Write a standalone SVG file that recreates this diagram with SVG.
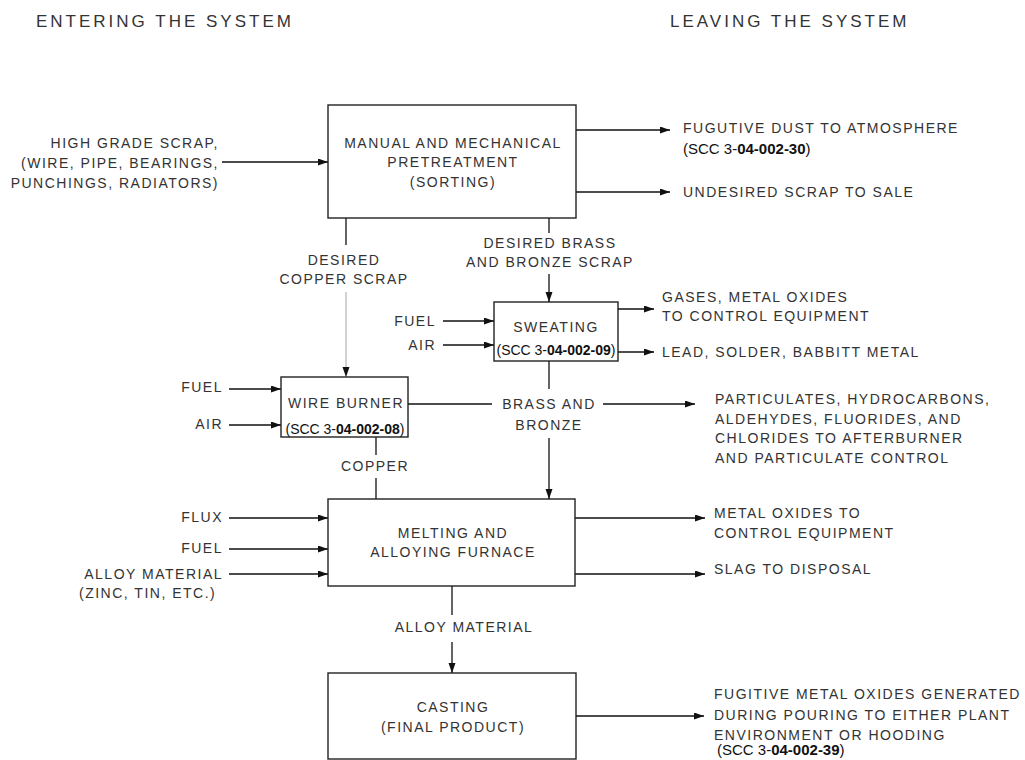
<svg xmlns="http://www.w3.org/2000/svg" width="1025" height="760" viewBox="0 0 1025 760">
<style>
.bg{fill:#fff}
.box{fill:#fff;stroke:#222;stroke-width:1.4}
.ln{fill:none;stroke:#111;stroke-width:1.3}
.lg{fill:none;stroke:#b8b8b8;stroke-width:1.3}
.t{font-family:"Liberation Sans",Arial,sans-serif;font-size:14px;letter-spacing:1.5px;fill:#333}
.h{font-family:"Liberation Sans",Arial,sans-serif;font-size:17px;letter-spacing:3px;fill:#333}
.m{text-anchor:middle}
.e{text-anchor:end}
.scc{font-family:"Liberation Sans",Arial,sans-serif;font-size:15px;letter-spacing:0;fill:#111}
.sci{font-family:"Liberation Sans",Arial,sans-serif;font-size:14px;letter-spacing:0;fill:#111}
.b{font-weight:bold}
</style>
<defs>
<marker id="ah" markerWidth="10" markerHeight="8" refX="10" refY="3.5" orient="auto" markerUnits="userSpaceOnUse">
<path d="M0,0 L10,3.5 L0,7 z" fill="#111"/>
</marker>
</defs>
<rect class="bg" width="1025" height="760"/>

<g id="headers">
<text class="h" x="36" y="27">ENTERING THE SYSTEM</text>
<text class="h" x="670" y="27">LEAVING THE SYSTEM</text>
</g>

<g id="connectors">
<line class="ln" x1="222" y1="162" x2="328" y2="162" marker-end="url(#ah)"/>
<line class="ln" x1="576" y1="130" x2="670" y2="130" marker-end="url(#ah)"/>
<line class="ln" x1="576" y1="192" x2="670" y2="192" marker-end="url(#ah)"/>
<line class="ln" x1="346" y1="218" x2="346" y2="245"/>
<line class="lg" x1="346" y1="292" x2="346" y2="377" marker-end="url(#ah)"/>
<line class="ln" x1="549" y1="218" x2="549" y2="233"/>
<line class="ln" x1="549" y1="274" x2="549" y2="302" marker-end="url(#ah)"/>
<line class="ln" x1="443" y1="321" x2="494" y2="321" marker-end="url(#ah)"/>
<line class="ln" x1="443" y1="345" x2="494" y2="345" marker-end="url(#ah)"/>
<line class="ln" x1="618" y1="309" x2="654" y2="309" marker-end="url(#ah)"/>
<line class="ln" x1="618" y1="352" x2="654" y2="352" marker-end="url(#ah)"/>
<line class="ln" x1="549" y1="361" x2="549" y2="389"/>
<line class="ln" x1="549" y1="438" x2="549" y2="499" marker-end="url(#ah)"/>
<line class="ln" x1="229" y1="389" x2="281" y2="389" marker-end="url(#ah)"/>
<line class="ln" x1="229" y1="425" x2="281" y2="425" marker-end="url(#ah)"/>
<line class="ln" x1="408" y1="404" x2="492" y2="404"/>
<line class="ln" x1="603" y1="404" x2="695" y2="404" marker-end="url(#ah)"/>
<line class="ln" x1="376" y1="437" x2="376" y2="455"/>
<line class="ln" x1="376" y1="478" x2="376" y2="499"/>
<line class="ln" x1="229" y1="518" x2="328" y2="518" marker-end="url(#ah)"/>
<line class="ln" x1="229" y1="549" x2="328" y2="549" marker-end="url(#ah)"/>
<line class="ln" x1="229" y1="574" x2="328" y2="574" marker-end="url(#ah)"/>
<line class="ln" x1="575" y1="518" x2="705" y2="518" marker-end="url(#ah)"/>
<line class="ln" x1="575" y1="574" x2="705" y2="574" marker-end="url(#ah)"/>
<line class="ln" x1="452" y1="586" x2="452" y2="615"/>
<line class="ln" x1="452" y1="642" x2="452" y2="673" marker-end="url(#ah)"/>
<line class="ln" x1="576" y1="716" x2="704" y2="716" marker-end="url(#ah)"/>
</g>

<g id="labels">
<text class="t e" x="219" y="148">HIGH GRADE SCRAP,</text>
<text class="t e" x="219" y="168">(WIRE, PIPE, BEARINGS,</text>
<text class="t e" x="219" y="188">PUNCHINGS, RADIATORS)</text>

<text class="t" x="683" y="133">FUGUTIVE DUST TO ATMOSPHERE</text>
<text class="scc" x="683" y="154">(SCC 3-<tspan class="b">04-002-30</tspan>)</text>
<text class="t" x="683" y="197">UNDESIRED SCRAP TO SALE</text>

<text class="t m" x="344" y="265">DESIRED</text>
<text class="t m" x="344" y="284">COPPER SCRAP</text>
<text class="t m" x="550" y="248">DESIRED BRASS</text>
<text class="t m" x="550" y="267">AND BRONZE SCRAP</text>

<text class="t e" x="436" y="326">FUEL</text>
<text class="t e" x="436" y="350">AIR</text>

<text class="t" x="662" y="302">GASES, METAL OXIDES</text>
<text class="t" x="662" y="321">TO CONTROL EQUIPMENT</text>
<text class="t" x="662" y="357">LEAD, SOLDER, BABBITT METAL</text>

<text class="t e" x="223" y="392">FUEL</text>
<text class="t e" x="223" y="429">AIR</text>

<text class="t m" x="549" y="409">BRASS AND</text>
<text class="t m" x="549" y="430">BRONZE</text>

<text class="t" x="715" y="404">PARTICULATES, HYDROCARBONS,</text>
<text class="t" x="715" y="424">ALDEHYDES, FLUORIDES, AND</text>
<text class="t" x="715" y="443">CHLORIDES TO AFTERBURNER</text>
<text class="t" x="715" y="463">AND PARTICULATE CONTROL</text>

<text class="t m" x="375" y="471">COPPER</text>

<text class="t e" x="223" y="522">FLUX</text>
<text class="t e" x="223" y="553">FUEL</text>
<text class="t e" x="223" y="579">ALLOY MATERIAL</text>
<text class="t" x="79" y="598">(ZINC, TIN, ETC.)</text>

<text class="t" x="714" y="518">METAL OXIDES TO</text>
<text class="t" x="714" y="538">CONTROL EQUIPMENT</text>
<text class="t" x="714" y="574">SLAG TO DISPOSAL</text>

<text class="t m" x="464" y="632">ALLOY MATERIAL</text>

<text class="t" x="714" y="699">FUGITIVE METAL OXIDES GENERATED</text>
<text class="t" x="714" y="720">DURING POURING TO EITHER PLANT</text>
<text class="t" x="714" y="740">ENVIRONMENT OR HOODING</text>
<text class="scc" x="717" y="755">(SCC 3-<tspan class="b">04-002-39</tspan>)</text>
</g>

<g id="manual">
<rect class="box" x="328" y="105" width="248" height="113"/>
<text class="t m" x="453" y="148">MANUAL AND MECHANICAL</text>
<text class="t m" x="453" y="167">PRETREATMENT</text>
<text class="t m" x="453" y="187">(SORTING)</text>
</g>

<g id="sweating">
<rect class="box" x="494" y="302" width="124" height="59"/>
<text class="t m" x="556" y="332">SWEATING</text>
<text class="sci m" x="556" y="355">(SCC 3-<tspan class="b">04-002-09</tspan>)</text>
</g>

<g id="wireburner">
<rect class="box" x="281" y="377" width="127" height="60"/>
<text class="t m" x="346" y="408">WIRE BURNER</text>
<text class="sci m" x="345" y="434">(SCC 3-<tspan class="b">04-002-08</tspan>)</text>
</g>

<g id="melting">
<rect class="box" x="328" y="499" width="247" height="87"/>
<text class="t m" x="453" y="538">MELTING AND</text>
<text class="t m" x="453" y="557">ALLOYING FURNACE</text>
</g>

<g id="casting">
<rect class="box" x="328" y="673" width="248" height="86"/>
<text class="t m" x="453" y="712">CASTING</text>
<text class="t m" x="453" y="732">(FINAL PRODUCT)</text>
</g>
</svg>
